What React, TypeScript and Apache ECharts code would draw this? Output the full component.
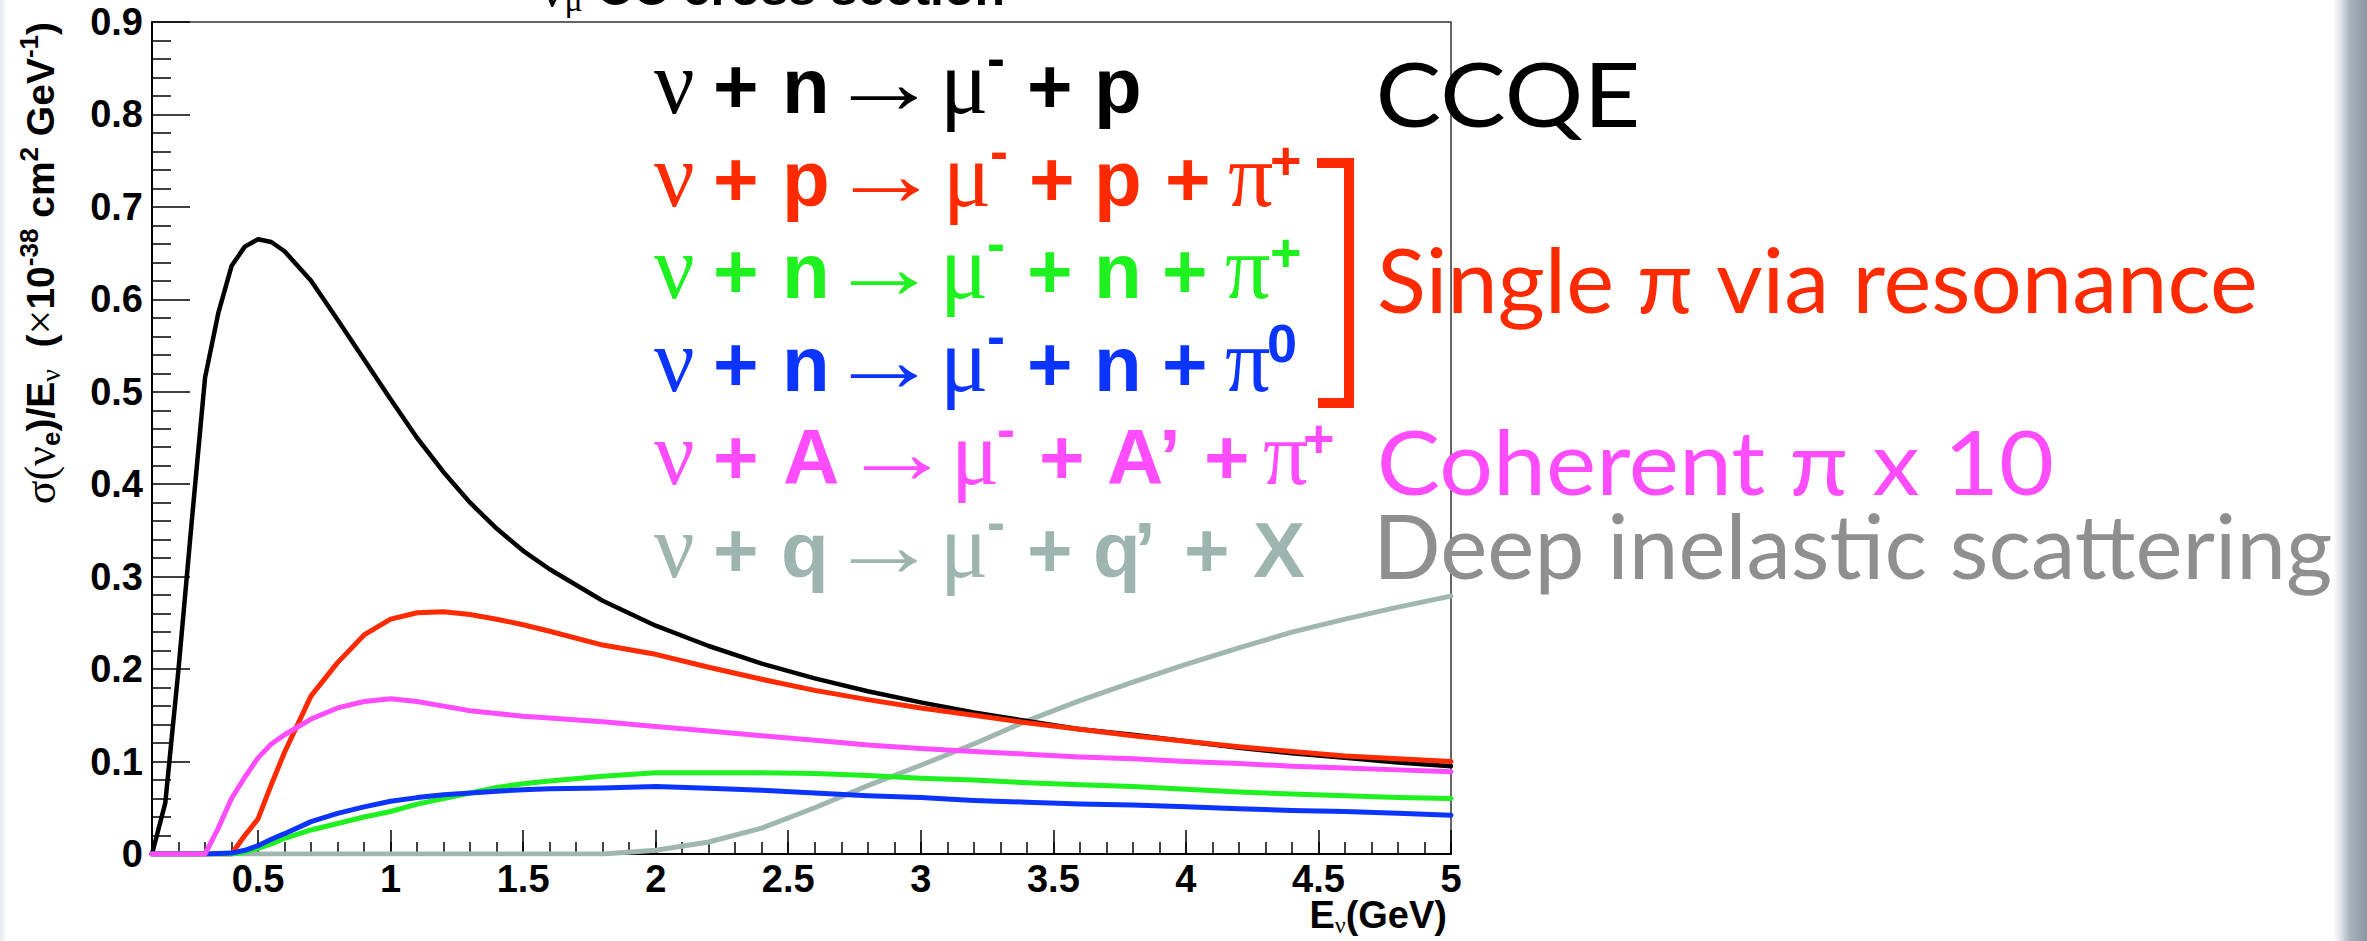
import React, { useEffect, useRef } from 'react';
import * as echarts from 'echarts';

// Neutrino energy grid (GeV) shared by every curve
const energyGeV = [
  0.1, 0.15, 0.2, 0.25, 0.3, 0.35, 0.4, 0.45, 0.5, 0.55, 0.6, 0.7, 0.8, 0.9, 1.0, 1.1, 1.2, 1.3, 1.4,
  1.5, 1.6, 1.8, 2.0, 2.2, 2.4, 2.6, 2.8, 3.0, 3.2, 3.4, 3.6, 3.8, 4.0, 4.2, 4.4, 4.6, 4.8, 5.0,
];

// σ/E (×10^-38 cm² GeV^-1) per channel
const ccqe = [
  0, 0.055, 0.2, 0.36, 0.515, 0.585, 0.636, 0.657, 0.665, 0.662, 0.652, 0.62, 0.578, 0.535, 0.492, 0.45, 0.413, 0.38, 0.352,
  0.328, 0.308, 0.274, 0.247, 0.225, 0.206, 0.19, 0.176, 0.164, 0.153, 0.144, 0.135, 0.129, 0.122, 0.115, 0.109, 0.104, 0.099, 0.095,
];
const resPiPlusProton = [
  0, 0, 0, 0, 0, 0, 0, 0.02, 0.038, 0.075, 0.11, 0.171, 0.207, 0.237, 0.254, 0.261, 0.262, 0.259, 0.254,
  0.248, 0.241, 0.226, 0.216, 0.202, 0.189, 0.177, 0.167, 0.158, 0.15, 0.142, 0.135, 0.128, 0.122, 0.116, 0.111, 0.106, 0.103, 0.1,
];
const resPiPlusNeutron = [
  0, 0, 0, 0, 0, 0, 0, 0.002, 0.006, 0.011, 0.017, 0.026, 0.033, 0.04, 0.046, 0.054, 0.06, 0.066, 0.072,
  0.076, 0.079, 0.084, 0.088, 0.088, 0.088, 0.087, 0.085, 0.082, 0.08, 0.077, 0.075, 0.073, 0.07, 0.067, 0.065, 0.063, 0.061, 0.06,
];
const resPiZeroNeutron = [
  0, 0, 0, 0, 0, 0.0005, 0.001, 0.004, 0.009, 0.016, 0.022, 0.035, 0.044, 0.051, 0.057, 0.061, 0.064, 0.066, 0.068,
  0.0695, 0.0705, 0.0715, 0.073, 0.071, 0.069, 0.066, 0.063, 0.061, 0.058, 0.056, 0.054, 0.053, 0.051, 0.049, 0.047, 0.046, 0.044, 0.042,
];
const coherentPiX10 = [
  0, 0, 0, 0, 0, 0.028, 0.06, 0.083, 0.104, 0.119, 0.129, 0.146, 0.158, 0.165, 0.168, 0.165, 0.16, 0.155, 0.152,
  0.149, 0.147, 0.143, 0.138, 0.133, 0.128, 0.123, 0.118, 0.114, 0.111, 0.108, 0.105, 0.103, 0.1, 0.098, 0.095, 0.093, 0.091, 0.089,
];
const deepInelastic = [
  0, 0, 0, 0, 0, 0, 0, 0, 0, 0, 0, 0, 0, 0, 0, 0, 0, 0, 0,
  0, 0, 0, 0.004, 0.013, 0.028, 0.05, 0.074, 0.096, 0.119, 0.144, 0.166, 0.186, 0.205, 0.223, 0.24, 0.254, 0.267, 0.279,
];

const xTickValues = [0.5, 1, 1.5, 2, 2.5, 3, 3.5, 4, 4.5, 5];

const RED = '#ff2a00';
const GREEN = '#1ff01f';
const BLUE = '#0c34ff';
const MAGENTA = '#ff4cff';
const SAGE = '#9fb7b0';

// drawing order: later entries sit on top
const CURVES = [
  { name: 'DIS', values: deepInelastic, color: SAGE, width: 5 },
  { name: 'CCQE', values: ccqe, color: '#000000', width: 4.5 },
  { name: 'Res pi+ p', values: resPiPlusProton, color: RED, width: 5 },
  { name: 'Res pi+ n', values: resPiPlusNeutron, color: GREEN, width: 5 },
  { name: 'Res pi0 n', values: resPiZeroNeutron, color: BLUE, width: 5 },
  { name: 'Coherent x10', values: coherentPiX10, color: MAGENTA, width: 5 },
];

const SANS = "'Liberation Sans', Arial, Helvetica, sans-serif";
const SERIF = "'Liberation Serif', 'DejaVu Serif', 'Times New Roman', serif";
const HUMANIST = "Lato, 'Open Sans', 'Noto Sans', sans-serif";

// reaction formulas: [glyph, ink left x, kind]
type Kind = 'g' | 's' | 'a' | 'm' | 'p' | 'z';
type Glyph = [string, number, Kind];
const ROW_BASE = 113;
const ROW_STEP = 92.7;
const REACTIONS: { color: string; glyphs: Glyph[] }[] = [
  {
    color: '#000000',
    glyphs: [['ν', 654, 'g'], ['+', 716, 's'], ['n', 787, 's'], ['→', 850, 'a'], ['μ', 947, 'g'], ['-', 989, 'm'], ['+', 1030, 's'], ['p', 1099, 's']],
  },
  {
    color: RED,
    glyphs: [['ν', 654, 'g'], ['+', 716, 's'], ['p', 787, 's'], ['→', 852, 'a'], ['μ', 950, 'g'], ['-', 992, 'm'], ['+', 1032, 's'], ['p', 1099, 's'], ['+', 1168, 's'], ['π', 1229, 'g'], ['+', 1272, 'p']],
  },
  {
    color: GREEN,
    glyphs: [['ν', 654, 'g'], ['+', 716, 's'], ['n', 787, 's'], ['→', 850, 'a'], ['μ', 947, 'g'], ['-', 989, 'm'], ['+', 1030, 's'], ['n', 1099, 's'], ['+', 1165, 's'], ['π', 1226, 'g'], ['+', 1272, 'p']],
  },
  {
    color: BLUE,
    glyphs: [['ν', 654, 'g'], ['+', 716, 's'], ['n', 787, 's'], ['→', 850, 'a'], ['μ', 947, 'g'], ['-', 989, 'm'], ['+', 1030, 's'], ['n', 1099, 's'], ['+', 1165, 's'], ['π', 1226, 'g'], ['0', 1269, 'z']],
  },
  {
    color: MAGENTA,
    glyphs: [['ν', 654, 'g'], ['+', 716, 's'], ['A', 784, 's'], ['→', 863, 'a'], ['μ', 958, 'g'], ['-', 999, 'm'], ['+', 1042, 's'], ['A', 1108, 's'], ['’', 1164, 's'], ['+', 1207, 's'], ['π', 1264, 'g'], ['+', 1305, 'p']],
  },
  {
    color: '#9db5ae',
    glyphs: [['ν', 654, 'g'], ['+', 716, 's'], ['q', 784, 's'], ['→', 850, 'a'], ['μ', 947, 'g'], ['-', 989, 'm'], ['+', 1030, 's'], ['q', 1096, 's'], ['’', 1139, 's'], ['+', 1187, 's'], ['X', 1253, 's']],
  },
];

const CHANNEL_LABELS = [
  { text: 'CCQE', color: '#000000', left: 1380, right: 1637, baseline: 127 },
  { text: 'Single π via resonance', color: RED, left: 1379, right: 2255, baseline: 313 },
  { text: 'Coherent π x 10', color: MAGENTA, left: 1381, right: 2052, baseline: 495 },
  { text: 'Deep inelastic scattering', color: '#8f8f8f', left: 1381, right: 2331, baseline: 579 },
];

function buildOverlay(): any[] {
  const ctx = document.createElement('canvas').getContext('2d')!;
  const els: any[] = [];

  const place = (
    text: string, inkLeft: number, baseline: number, size: number, family: string,
    weight: string, color: string, inkWidth?: number,
  ) => {
    ctx.font = `${weight} ${size}px ${family}`;
    const m = ctx.measureText(text);
    const natural = m.actualBoundingBoxLeft + m.actualBoundingBoxRight;
    const sx = inkWidth && natural > 0 ? inkWidth / natural : 1;
    const central = ((m.fontBoundingBoxAscent || size * 0.9) - (m.fontBoundingBoxDescent || size * 0.21)) / 2;
    els.push({
      type: 'text',
      x: inkLeft + m.actualBoundingBoxLeft * sx,
      y: baseline - central,
      scaleX: sx,
      silent: true,
      z: 100,
      style: {
        text, x: 0, y: 0, fill: color, fontSize: size, fontFamily: family,
        fontWeight: weight, align: 'left', verticalAlign: 'middle',
      },
    });
  };

  REACTIONS.forEach((row, i) => {
    const base = ROW_BASE + ROW_STEP * i;
    row.glyphs.forEach(([t, x, kind]) => {
      if (kind === 'g') place(t, x, base, 90, SERIF, 'normal', row.color);
      else if (kind === 's') place(t, x, base, 78, SANS, 'bold', row.color);
      else if (kind === 'a') place(t, x, base, 90, SERIF, 'normal', row.color, 67);
      else if (kind === 'm') place(t, x, base - 36, 54, SANS, 'bold', row.color);
      else if (kind === 'p') place(t, x, base - 27, 54, SANS, 'bold', row.color);
      else place(t, x, base - 29, 54, SANS, 'bold', row.color);
    });
  });

  CHANNEL_LABELS.forEach((l) => {
    place(l.text, l.left, l.baseline, 90, HUMANIST, 'normal', l.color, l.right - l.left);
  });

  // bracket grouping the three resonance channels
  els.push({
    type: 'polyline',
    silent: true,
    z: 100,
    shape: { points: [[1317, 163], [1349, 163], [1349, 403], [1318, 403]] },
    style: { stroke: RED, lineWidth: 10, fill: null, lineJoin: 'miter' },
  });

  // plot title, mostly above the top edge
  els.push({
    type: 'text',
    x: 540,
    y: -12,
    silent: true,
    z: 100,
    style: {
      text: '{g|ν}{s|μ}{b| CC cross section}',
      align: 'left',
      verticalAlign: 'middle',
      rich: {
        b: { fontFamily: SANS, fontWeight: 'bold', fontSize: 50, lineHeight: 56, fill: '#000' },
        g: { fontFamily: SERIF, fontSize: 54, lineHeight: 56, fill: '#000' },
        s: { fontFamily: SERIF, fontSize: 34, lineHeight: 38, verticalAlign: 'bottom', fill: '#000' },
      },
    },
  });

  // y-axis title, reading upward, ending at the top of the frame
  els.push({
    type: 'text',
    x: 40,
    y: 22,
    rotation: Math.PI / 2,
    silent: true,
    z: 100,
    style: {
      text: '{g|σ(ν}{sb|e}{b|)/E}{sg|ν}{b|  (}{g|×}{b|10}{sp|-38}{b| cm}{sp|2}{b| GeV}{sp|-1}{b|)}',
      align: 'right',
      verticalAlign: 'middle',
      rich: {
        b: { fontFamily: SANS, fontWeight: 'bold', fontSize: 39, lineHeight: 48, fill: '#000' },
        g: { fontFamily: SERIF, fontSize: 44, lineHeight: 48, fill: '#000' },
        sb: { fontFamily: SANS, fontWeight: 'bold', fontSize: 26, lineHeight: 22, verticalAlign: 'bottom', fill: '#000' },
        sg: { fontFamily: SERIF, fontSize: 28, lineHeight: 22, verticalAlign: 'bottom', fill: '#000' },
        sp: { fontFamily: SANS, fontWeight: 'bold', fontSize: 26, lineHeight: 24, verticalAlign: 'top', fill: '#000' },
      },
    },
  });

  // x-axis title, right-aligned to the end of the axis
  els.push({
    type: 'text',
    x: 1447,
    y: 915,
    silent: true,
    z: 100,
    style: {
      text: '{b|E}{s|ν}{b|(GeV)}',
      align: 'right',
      verticalAlign: 'middle',
      rich: {
        b: { fontFamily: SANS, fontWeight: 'bold', fontSize: 38, lineHeight: 44, fill: '#000' },
        s: { fontFamily: SERIF, fontSize: 24, lineHeight: 20, verticalAlign: 'bottom', fill: '#000' },
      },
    },
  });

  // slide edges
  els.push({
    type: 'rect',
    silent: true,
    z: 1,
    shape: { x: 2333, y: 0, width: 34, height: 941 },
    style: {
      fill: new echarts.graphic.LinearGradient(0, 0, 1, 0, [
        { offset: 0, color: '#ffffff' },
        { offset: 0.2, color: '#e3e8ec' },
        { offset: 0.5, color: '#a9b3bc' },
        { offset: 1, color: '#8a96a0' },
      ]),
    },
  });
  els.push({
    type: 'rect',
    silent: true,
    z: 1,
    shape: { x: 0, y: 0, width: 7, height: 941 },
    style: {
      fill: new echarts.graphic.LinearGradient(0, 0, 1, 0, [
        { offset: 0, color: '#e6e9ed' },
        { offset: 1, color: '#ffffff' },
      ]),
    },
  });

  return els;
}

export default function App() {
  const ref = useRef<HTMLDivElement>(null);

  useEffect(() => {
    if (!ref.current) return;
    const chart = echarts.init(ref.current, null, { renderer: 'svg' });

    const tickLabel = {
      fontFamily: SANS,
      fontWeight: 'bold' as const,
      fontSize: 38,
      color: '#000',
    };

    chart.setOption({
      animation: false,
      backgroundColor: '#ffffff',
      grid: {
        left: 152,
        top: 22,
        width: 1299,
        height: 832,
        show: true,
        borderColor: '#333',
        borderWidth: 1.5,
        backgroundColor: 'transparent',
        containLabel: false,
        outerBoundsMode: 'none',
      },
      xAxis: [
        {
          type: 'value',
          position: 'bottom',
          min: 0.1,
          max: 5,
          interval: 0.1,
          axisLine: { show: true, onZero: false, lineStyle: { color: '#000', width: 2 } },
          axisTick: { show: true, inside: true, length: 12, lineStyle: { color: '#000', width: 1.5 } },
          axisLabel: { ...tickLabel, margin: 6, customValues: xTickValues },
          splitLine: { show: false },
        },
        {
          type: 'value',
          position: 'bottom',
          min: 0.1,
          max: 5,
          interval: 0.1,
          axisLine: { show: false },
          axisTick: { show: true, inside: true, length: 24, customValues: xTickValues, lineStyle: { color: '#000', width: 1.5 } },
          axisLabel: { show: false },
          splitLine: { show: false },
        },
      ],
      yAxis: {
        type: 'value',
        min: 0,
        max: 0.9,
        interval: 0.1,
        axisLine: { show: true, onZero: false, lineStyle: { color: '#000', width: 2 } },
        axisTick: { show: true, inside: true, length: 38, lineStyle: { color: '#000', width: 1.5 } },
        minorTick: { show: true, splitNumber: 5, length: 19, lineStyle: { color: '#000', width: 1.5 } },
        axisLabel: { ...tickLabel, margin: 9 },
        splitLine: { show: false },
        minorSplitLine: { show: false },
      },
      series: CURVES.map((c, i) => ({
        type: 'line',
        name: c.name,
        xAxisIndex: 0,
        yAxisIndex: 0,
        data: energyGeV.map((e, k) => [e, c.values[k]]),
        showSymbol: false,
        symbol: 'none',
        silent: true,
        clip: true,
        z: 2 + i * 0.01,
        lineStyle: { color: c.color, width: c.width, cap: 'round', join: 'round' },
      })),
      graphic: { elements: buildOverlay() },
    });

    return () => chart.dispose();
  }, []);

  return (
    <div
      ref={ref}
      style={{ position: 'absolute', left: 0, top: 0, width: 2367, height: 941 }}
    />
  );
}
